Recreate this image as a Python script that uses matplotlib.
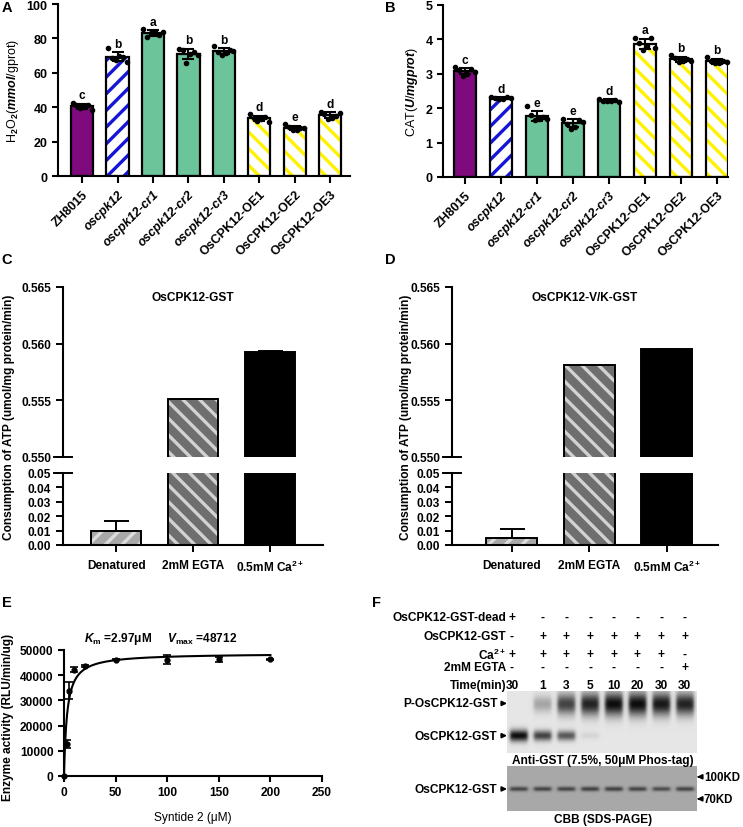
import matplotlib
matplotlib.use('Agg')
import matplotlib.pyplot as plt
import numpy as np

plt.rcParams['font.family'] = ['Liberation Sans', 'DejaVu Sans']
plt.rcParams['font.weight'] = 'bold'
plt.rcParams['mathtext.fontset'] = 'custom'
plt.rcParams['mathtext.rm'] = 'Liberation Sans'
plt.rcParams['mathtext.it'] = 'Liberation Sans:italic'
plt.rcParams['mathtext.bf'] = 'Liberation Sans:bold'
plt.rcParams['mathtext.bfit'] = 'Liberation Sans:bold:italic'
plt.rcParams['hatch.linewidth'] = 2.4
plt.rcParams['axes.linewidth'] = 1.5

# ---------------- data ----------------
genotypes = ['ZH8015', 'oscpk12', 'oscpk12-cr1', 'oscpk12-cr2', 'oscpk12-cr3',
             'OsCPK12-OE1', 'OsCPK12-OE2', 'OsCPK12-OE3']
h2o2_reps = [
    [42.5, 41.0, 39.5, 40.0, 41.5, 38.5],
    [74.2, 68.5, 67.5, 70.0, 69.0, 66.5],
    [85.5, 81.0, 83.0, 84.0, 82.0, 83.5],
    [74.0, 73.0, 65.5, 71.0, 72.0, 70.5],
    [75.5, 72.0, 70.5, 71.5, 73.0, 72.5],
    [36.0, 34.0, 32.0, 33.0, 34.5, 31.5],
    [30.0, 28.5, 26.5, 27.0, 28.0, 28.0],
    [37.5, 36.0, 33.0, 34.0, 35.0, 36.5],
]
h2o2_letters = ['c', 'b', 'a', 'b', 'b', 'd', 'e', 'd']
cat_reps = [
    [3.20, 3.10, 2.95, 3.00, 3.15, 3.05],
    [2.33, 2.30, 2.27, 2.28, 2.32, 2.30],
    [2.05, 1.80, 1.65, 1.70, 1.75, 1.70],
    [1.70, 1.55, 1.40, 1.45, 1.65, 1.60],
    [2.27, 2.20, 2.20, 2.22, 2.25, 2.18],
    [4.05, 3.90, 3.70, 3.80, 4.05, 3.75],
    [3.55, 3.45, 3.35, 3.38, 3.42, 3.37],
    [3.50, 3.38, 3.30, 3.32, 3.36, 3.35],
]
cat_letters = ['c', 'd', 'e', 'e', 'd', 'a', 'b', 'b']

atp_conditions = ['Denatured', '2mM EGTA', r'0.5mM Ca$^{\mathbf{2+}}$']
atp_wt = [0.0095, 0.5551, 0.5593]
atp_wt_err = [0.0072, 0.00006, 0.00007]
atp_vk = [0.0050, 0.5581, 0.5595]
atp_vk_err = [0.0062, 0.00006, 0.00005]

syntide = [0, 2.5, 5, 10, 20, 50, 100, 150, 200]
activity = [0, 12800, 33900, 42200, 43500, 46200, 46200, 46400, 46300]
activity_err = [0, 1500, 3300, 1000, 400, 300, 1700, 1000, 300]
km, vmax = 2.97, 48712

lane_dead = ['+', '-', '-', '-', '-', '-', '-', '-']
lane_gst = ['-', '+', '+', '+', '+', '+', '+', '+']
lane_ca = ['+', '+', '+', '+', '+', '+', '+', '-']
lane_egta = ['-', '-', '-', '-', '-', '-', '-', '+']
lane_time = ['30', '1', '3', '5', '10', '20', '30', '30']
p_band = [0.0, 0.3, 0.75, 0.9, 1.0, 1.0, 0.95, 0.9]
free_band = [1.0, 0.75, 0.65, 0.08, 0.0, 0.0, 0.0, 0.0]
cbb_band = [0.65, 0.65, 0.65, 0.68, 0.68, 0.65, 0.6, 0.65]

# ---------------- layout helpers ----------------
W, H = 743, 828
fig = plt.figure(figsize=(W / 100, H / 100), dpi=100)
FS = 8.6


def box(l, t, r, b):
    return [l / W, 1 - b / H, (r - l) / W, (b - t) / H]


def ftext(x, y, s, **kw):
    return fig.text(x / W, 1 - y / H, s, **kw)


geno_styles = [
    dict(color='#7E0A7E'),
    dict(color='white', edgecolor='#1515D8', hatch='//'),
    dict(color='#6CC49A'),
    dict(color='#6CC49A'),
    dict(color='#6CC49A'),
    dict(color='white', edgecolor='#FFF200', hatch='\\\\'),
    dict(color='white', edgecolor='#FFF200', hatch='\\\\'),
    dict(color='white', edgecolor='#FFF200', hatch='\\\\'),
]


def genotype_panel(rect, reps, letters, ymax, step, ylabel, xlim, letter_gap):
    ax = fig.add_axes(box(*rect))
    x = np.arange(len(reps))
    for i, r in enumerate(reps):
        m = np.mean(r)
        s = np.std(r, ddof=1)
        ax.bar(i, m, 0.63, lw=0, zorder=2, **geno_styles[i])
        ax.bar(i, m, 0.63, fill=False, edgecolor='black', lw=1.6, zorder=3)
        ax.errorbar(i, m, yerr=s, color='black', capsize=4, elinewidth=1.5,
                    capthick=1.5, zorder=5)
        offs = np.linspace(-0.27, 0.27, len(r))
        ax.scatter(i + offs, r, s=9, color='black', zorder=6, clip_on=False)
        ax.text(i, m + s + letter_gap, letters[i], ha='center', va='bottom',
                fontsize=FS)
    ax.set_xlim(*xlim)
    ax.set_ylim(0, ymax)
    ax.set_yticks(np.arange(0, ymax + step / 2, step))
    ax.set_xticks(x)
    ax.set_xticklabels(genotypes, rotation=45, ha='right',
                       rotation_mode='anchor', fontsize=9)
    for lab in ax.get_xticklabels():
        if lab.get_text().startswith('oscpk12'):
            lab.set_fontstyle('italic')
    ax.tick_params(axis='both', width=1.5, length=4, labelsize=9)
    ax.tick_params(axis='x', length=5)
    for sp in ['top', 'right']:
        ax.spines[sp].set_visible(False)
    ax.set_ylabel(ylabel, fontsize=9, fontweight='normal', labelpad=4)
    return ax


genotype_panel((58, 5, 350, 177), h2o2_reps, h2o2_letters, 100, 20,
               r'H$_2$O$_2$($\it{mmol}$/gprot)', (-0.68, 7.56), 1.5)
genotype_panel((443, 6, 728, 178), cat_reps, cat_letters, 5, 1,
               r'CAT($\it{U}$/$\it{mgprot}$)', (-0.61, 7.31), 0.07)

# ---------------- C / D: broken-axis ATP panels ----------------
atp_styles = [
    dict(color='#A8A8A8', edgecolor='#DCDCDC', hatch='//'),
    dict(color='#6E6E6E', edgecolor='#D2D2D2', hatch='\\\\'),
    dict(color='black'),
]


def atp_panel(l, r, xlim, title, vals, errs, ylab_x):
    ax_top = fig.add_axes(box(l, 288, r, 458))
    ax_bot = fig.add_axes(box(l, 474, r, 546))
    for ax in (ax_top, ax_bot):
        for i, v in enumerate(vals):
            ax.bar(i, v, 0.66, lw=0, zorder=2, **atp_styles[i])
            ax.bar(i, v, 0.66, fill=False, edgecolor='black', lw=1.4, zorder=3)
            ax.errorbar(i, v, yerr=[[0], [errs[i]]], color='black', capsize=9,
                        elinewidth=1.4, capthick=1.4, zorder=4)
        ax.set_xlim(*xlim)
        ax.spines['top'].set_visible(False)
        ax.spines['right'].set_visible(False)
        ax.tick_params(axis='y', width=1.4, length=5, labelsize=FS)
        ax.plot([-0.035, 0.035], [0, 0] if ax is ax_top else [1, 1],
                transform=ax.transAxes, color='black', lw=1.4, clip_on=False)
    ax_top.set_ylim(0.55, 0.565)
    ax_top.set_yticks([0.550, 0.555, 0.560, 0.565])
    ax_top.set_yticklabels(['%.3f' % t for t in [0.550, 0.555, 0.560, 0.565]])
    ax_top.spines['bottom'].set_visible(False)
    ax_top.set_xticks([])
    ax_top.text(0.5, 0.94, title, transform=ax_top.transAxes, ha='center',
                va='center', fontsize=FS)
    ax_bot.set_ylim(0, 0.05)
    ax_bot.set_yticks(np.arange(0, 0.051, 0.01))
    ax_bot.set_yticklabels(['%.2f' % t for t in np.arange(0, 0.051, 0.01)])
    ax_bot.set_xticks(range(len(atp_conditions)))
    ax_bot.set_xticklabels(atp_conditions, fontsize=FS)
    ax_bot.tick_params(axis='x', width=1.4, length=5, pad=5)
    ftext(ylab_x, 417, 'Consumption of ATP (umol/mg protein/min)', rotation=90,
          ha='center', va='center', fontsize=FS)


atp_panel(63, 323, (-0.69, 2.69), 'OsCPK12-GST', atp_wt, atp_wt_err, 9)
atp_panel(452, 718, (-0.77, 2.66), 'OsCPK12-V/K-GST', atp_vk, atp_vk_err, 406)

# ---------------- E: Michaelis-Menten ----------------
axe = fig.add_axes(box(64, 651, 322, 777))
xs = np.linspace(0, 200, 400)
axe.plot(xs, vmax * xs / (km + xs), color='black', lw=1.5, zorder=3)
axe.errorbar(syntide, activity, yerr=activity_err, fmt='o', ms=3.5,
             color='black', capsize=3, elinewidth=1.2, capthick=1.2,
             zorder=4, clip_on=False)
axe.set_xlim(0, 250)
axe.set_ylim(0, 50000)
axe.set_xticks(range(0, 251, 50))
axe.set_yticks(range(0, 50001, 10000))
axe.tick_params(width=1.5, length=4, labelsize=FS)
for sp in ['top', 'right']:
    axe.spines[sp].set_visible(False)
axe.set_xlabel('Syntide 2 (μM)', fontsize=FS, labelpad=9)
ftext(8, 717, 'Enzyme activity (RLU/min/ug)', rotation=90, ha='center',
      va='center', fontsize=FS)
ftext(161, 639, r'$\mathbfit{K}_{\mathbf{m}}$ =2.97μM     '
      r'$\mathbfit{V}_{\mathbf{max}}$ =48712', ha='center', va='center',
      fontsize=FS)

# ---------------- F: blot ----------------
lane_x = [519 + 23.7 * i for i in range(8)]
rows = [('OsCPK12-GST-dead', lane_dead, 618),
        ('OsCPK12-GST', lane_gst, 637),
        (r'Ca$^{\mathbf{2+}}$', lane_ca, 655),
        ('2mM EGTA', lane_egta, 668),
        ('Time(min)', lane_time, 686)]
for label, marks, y in rows:
    ftext(506, y, label, ha='right', va='center', fontsize=FS)
    for i, mk in enumerate(marks):
        xx = 512 if i == 0 else lane_x[i]
        ftext(xx, y, mk, ha='center', va='center', fontsize=FS)


def blot_image(bg, bands, nx=380, ny=126):
    u = (np.arange(nx) + 0.5) / nx * 8
    v = (np.arange(ny) + 0.5) / ny
    dark = np.zeros((ny, nx))
    for inten, yc, sig in bands:
        for i, a in enumerate(inten):
            if a <= 0:
                continue
            lane = 1 / (1 + np.exp((np.abs(u - (i + 0.5)) - 0.37) / 0.04))
            s = sig * (0.7 + 0.5 * a)
            row = np.exp(-0.5 * ((v - yc) / s) ** 2)
            dark += a * np.outer(row, lane)
    return bg - (bg - 0.05) * np.clip(dark, 0, 1)


ax1 = fig.add_axes(box(507, 692, 697, 754))
img1 = blot_image(0.9, [(p_band, 0.21, 0.11), (free_band, 0.72, 0.055)])
ax1.imshow(img1, cmap='gray', vmin=0, vmax=1, aspect='auto',
           extent=[0, 8, 1, 0], interpolation='bilinear')
ax2 = fig.add_axes(box(507, 767, 697, 812))
img2 = blot_image(0.66, [(cbb_band, 0.51, 0.035)])
ax2.imshow(img2, cmap='gray', vmin=0, vmax=1, aspect='auto',
           extent=[0, 8, 1, 0], interpolation='bilinear')
for ax in (ax1, ax2):
    ax.set_xticks([])
    ax.set_yticks([])
    for sp in ax.spines.values():
        sp.set_visible(False)

arrow = dict(arrowstyle='-|>', color='black', lw=1.2, shrinkA=1, shrinkB=0,
             mutation_scale=7)
ax1.annotate('P-OsCPK12-GST', xy=(0, 0.8), xycoords='axes fraction',
             xytext=(-7, 0), textcoords='offset points', ha='right',
             va='center', fontsize=FS, arrowprops=arrow)
ax1.annotate('OsCPK12-GST', xy=(0, 0.28), xycoords='axes fraction',
             xytext=(-7, 0), textcoords='offset points', ha='right',
             va='center', fontsize=FS, arrowprops=arrow)
ax2.annotate('OsCPK12-GST', xy=(0, 0.49), xycoords='axes fraction',
             xytext=(-7, 0), textcoords='offset points', ha='right',
             va='center', fontsize=FS, arrowprops=arrow)
ax2.annotate('100KD', xy=(1, 0.76), xycoords='axes fraction',
             xytext=(5, 0), textcoords='offset points', ha='left',
             va='center', fontsize=8.3, arrowprops=arrow)
ax2.annotate('70KD', xy=(1, 0.27), xycoords='axes fraction',
             xytext=(5, 0), textcoords='offset points', ha='left',
             va='center', fontsize=8.3, arrowprops=arrow)
ftext(603, 761, 'Anti-GST (7.5%, 50μM Phos-tag)', ha='center', va='center',
      fontsize=FS)
ftext(603, 820, 'CBB (SDS-PAGE)', ha='center', va='center', fontsize=FS)

# panel letters
for letter, x, y in [('A', 7, 8), ('B', 390, 8), ('C', 7, 260), ('D', 390, 260),
                     ('E', 7, 603), ('F', 377, 603)]:
    ftext(x, y, letter, ha='center', va='center', fontsize=10.5)

fig.savefig('out.png', dpi=100)
